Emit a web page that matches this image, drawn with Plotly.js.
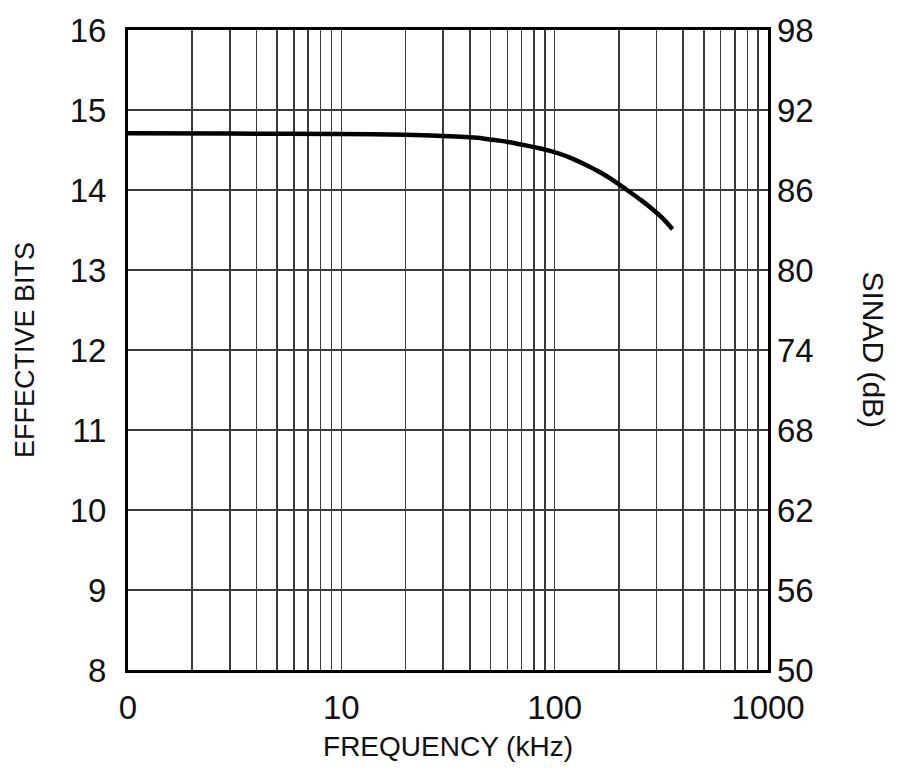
<!DOCTYPE html>
<html>
<head>
<meta charset="utf-8">
<script src="https://cdn.plot.ly/plotly-3.0.1.min.js"></script>
<style>
html,body{margin:0;padding:0;background:#fff;}
#chart{width:900px;height:784px;}
</style>
</head>
<body>
<div id="chart"></div>
<script>
// Data
const frequencyKHz = [1, 3, 10, 20, 30, 40, 46, 55, 65, 74, 84, 93, 105, 118, 141, 165, 188, 225, 255, 280, 323, 357];
const effectiveBits = [14.71, 14.705, 14.70, 14.69, 14.675, 14.658, 14.645, 14.617, 14.585, 14.555, 14.525, 14.495, 14.455, 14.405, 14.31, 14.215, 14.12, 13.975, 13.87, 13.785, 13.64, 13.51];

const xGridVals = [1,2,3,4,5,6,7,8,9,10,20,30,40,50,60,70,80,90,100,200,300,400,500,600,700,800,900,1000];
const xTickLabels = ["0","","","","","","","","","10","","","","","","","","","100","","","","","","","","","1000"];
const leftTickVals = [8,9,10,11,12,13,14,15,16];
const rightTickVals = [50,56,62,68,74,80,86,92,98];

const FONT = '"Liberation Sans", Arial, sans-serif';

const trace = {
  x: frequencyKHz,
  y: effectiveBits,
  type: 'scatter',
  mode: 'lines',
  line: {color: '#000', width: 4.5, shape: 'spline', smoothing: 0.6},
  hoverinfo: 'skip',
  showlegend: false
};

// invisible anchor trace so the right (SINAD) axis is drawn
const sinadAxisTrace = {
  x: [xGridVals[0]],
  y: [rightTickVals[0]],
  yaxis: 'y2',
  type: 'scatter',
  mode: 'markers',
  marker: {opacity: 0},
  hoverinfo: 'skip',
  showlegend: false
};

const layout = {
  width: 900,
  height: 784,
  margin: {l: 128, r: 132, t: 30, b: 114},
  paper_bgcolor: '#fff',
  plot_bgcolor: '#fff',
  showlegend: false,
  xaxis: {
    type: 'log',
    range: [0, 3],
    tickmode: 'array',
    tickvals: xGridVals,
    ticktext: xTickLabels,
    showgrid: true,
    gridcolor: '#3a3a3a',
    gridwidth: 1.6,
    showline: true,
    linecolor: '#000',
    linewidth: 3,
    mirror: true,
    ticks: '',
    ticklabelstandoff: 6,
    tickfont: {family: FONT, size: 33, color: '#111'},
    zeroline: false,
    title: {text: 'FREQUENCY (kHz)', font: {family: FONT, size: 28, color: '#111'}, standoff: 12}
  },
  yaxis: {
    range: [8, 16],
    tickmode: 'array',
    tickvals: leftTickVals,
    showgrid: true,
    gridcolor: '#3a3a3a',
    gridwidth: 1.6,
    showline: true,
    linecolor: '#000',
    linewidth: 3,
    mirror: true,
    ticks: '',
    ticklabelstandoff: 12,
    tickfont: {family: FONT, size: 33, color: '#111'},
    zeroline: false,
    title: {text: 'EFFECTIVE BITS', font: {family: FONT, size: 27, color: '#111'}, standoff: 28}
  },
  yaxis2: {
    range: [50, 98],
    overlaying: 'y',
    side: 'right',
    anchor: 'x',
    tickmode: 'array',
    tickvals: rightTickVals,
    showgrid: false,
    showline: false,
    ticks: '',
    ticklabelstandoff: 8,
    tickfont: {family: FONT, size: 33, color: '#111'},
    zeroline: false
  },
  annotations: [{
    text: 'SINAD (dB)',
    xref: 'paper', yref: 'paper',
    x: 1.165, y: 0.5,
    xanchor: 'center', yanchor: 'middle',
    textangle: 90,
    showarrow: false,
    font: {family: FONT, size: 30, color: '#111'}
  }]
};

Plotly.newPlot('chart', [trace, sinadAxisTrace], layout, {displayModeBar: false, staticPlot: true});
</script>
</body>
</html>
